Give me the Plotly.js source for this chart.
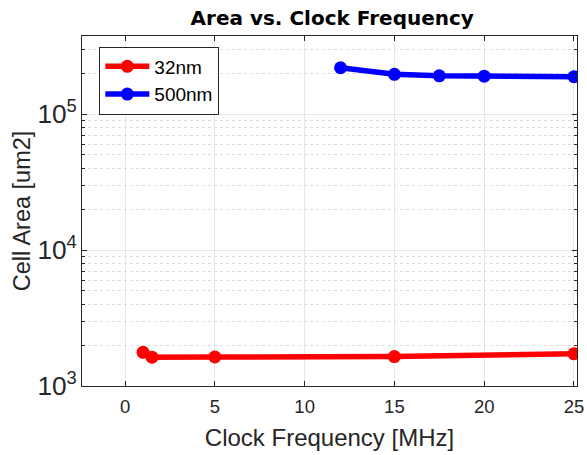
<!DOCTYPE html>
<html><head><meta charset="utf-8">
<script src="https://cdn.plot.ly/plotly-3.0.1.min.js"></script>
<style>html,body{margin:0;padding:0;background:#fff}#chart{width:587px;height:455px}</style>
</head><body><div id="chart"></div>
<script>
const freq32 = [1, 1.5, 5, 15, 25];
const area32 = [1770, 1630, 1635, 1645, 1725];
const freq500 = [12, 15, 17.5, 20, 25];
const area500 = [219000, 196000, 191000, 190000, 188000];
const seriesNames = ['32nm', '500nm'];
const titleText = 'Area vs. Clock Frequency';
const xTitle = 'Clock Frequency [MHz]';
const yTitle = 'Cell Area [um2]';

const font = 'Liberation Sans, Arial, sans-serif';
const traces = [
  {x: freq32, y: area32, name: seriesNames[0], mode: 'lines+markers',
   line: {color: '#ff0000', width: 5.5}, marker: {color: '#ff0000', size: 13}},
  {x: freq500, y: area500, name: seriesNames[1], mode: 'lines+markers',
   line: {color: '#0000ff', width: 5.5}, marker: {color: '#0000ff', size: 13}}
];
const axisCommon = {
  showline: true, linecolor: '#262626', linewidth: 1, mirror: 'ticks',
  ticks: 'inside', ticklen: 5, tickcolor: '#262626',
  showgrid: true, gridcolor: '#e6e6e6', gridwidth: 1, zeroline: false,
  tickfont: {family: font, size: 18.5, color: '#262626'}
};
const layout = {
  width: 587, height: 455,
  margin: {l: 82, r: 10, t: 36, b: 69},
  paper_bgcolor: '#ffffff', plot_bgcolor: '#ffffff',
  title: {text: '<b>' + titleText + '</b>', x: 0.566, xanchor: 'center', y: 0.96, yanchor: 'middle',
          font: {family: 'DejaVu Sans, sans-serif', size: 20, color: '#000'}},
  xaxis: Object.assign({}, axisCommon, {
    range: [-2.4, 25.17], tickvals: [0, 5, 10, 15, 20, 25], ticklabelstandoff: 4,
    title: {text: xTitle, font: {family: font, size: 24, color: '#262626'}, standoff: 12}
  }),
  yaxis: Object.assign({}, axisCommon, {
    type: 'log', range: [3, 5.574], dtick: 1, exponentformat: 'power',
    tickfont: {family: font, size: 21, color: '#262626'},
    minor: {showgrid: true, gridcolor: '#dcdcdc', griddash: 'dot', ticks: 'inside', ticklen: 3, tickcolor: '#262626'},
    title: {text: yTitle, font: {family: font, size: 23.5, color: '#262626'}, standoff: 0}
  }),
  legend: {x: 0.035, y: 0.97, xanchor: 'left', yanchor: 'top',
    bgcolor: '#ffffff', bordercolor: '#262626', borderwidth: 1,
    font: {family: font, size: 19, color: '#000'}, itemwidth: 44, tracegroupgap: 0},
  showlegend: true
};
Plotly.newPlot('chart', traces, layout, {displayModeBar: false, staticPlot: true});
</script></body></html>
